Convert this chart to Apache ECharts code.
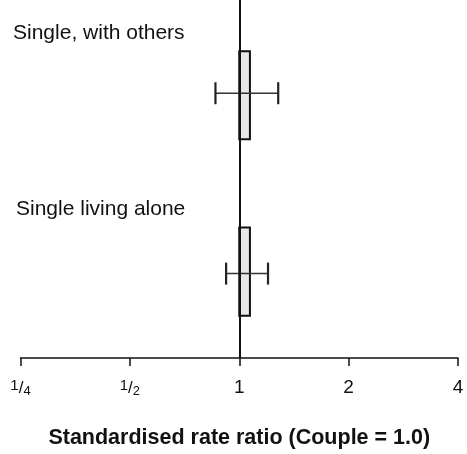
<!DOCTYPE html>
<html>
<head>
<meta charset="utf-8">
<script src="https://cdn.jsdelivr.net/npm/echarts@6/dist/echarts.min.js"></script>
<style>
	html, body { margin: 0; padding: 0; background: #fff; }
	#chart { width: 467px; height: 454px; }
</style>
</head>
<body>
<div id="chart"></div>
<script>
// 数据
var groups = ['Single, with others', 'Single living alone'];
var rateRatio = [1.07, 1.07];
var lowerCI = [0.86, 0.92];
var upperCI = [1.28, 1.20];
var tickValues = [0.25, 0.5, 1, 2, 4];
var tickLabels = ['{n|1}{s|/}{d|4}', '{n|1}{s|/}{d|2}', '1', '2', '4'];

window.onload = function() {
	var chart = echarts.init(document.getElementById('chart'));
	var fontFam = '"Liberation Sans", Arial, sans-serif';

	var rows = [];
	for (var i = 0; i < groups.length; i++) {
		rows.push([i, rateRatio[i], lowerCI[i], upperCI[i]]);
	}

	function renderItem(params, api) {
		var idx = api.value(0);
		var base = api.coord([1, idx]);
		var est = api.coord([api.value(1), idx]);
		var lo = api.coord([api.value(2), idx]);
		var hi = api.coord([api.value(3), idx]);
		var barH = api.size([0, 1])[1] * 0.5;
		var capH = 22;
		var ey = base[1] + (idx === 0 ? -2 : 2);
		return {
			type: 'group',
			children: [
				{
					type: 'rect',
					shape: { x: base[0], y: base[1] - barH / 2, width: est[0] - base[0], height: barH },
					style: { fill: '#e8e8e8', stroke: '#111', lineWidth: 2 }
				},
				{
					type: 'line',
					shape: { x1: lo[0], y1: ey, x2: hi[0], y2: ey },
					style: { stroke: '#333', lineWidth: 1.5 }
				},
				{
					type: 'line',
					shape: { x1: lo[0], y1: ey - capH / 2, x2: lo[0], y2: ey + capH / 2 },
					style: { stroke: '#222', lineWidth: 2.2 }
				},
				{
					type: 'line',
					shape: { x1: hi[0], y1: ey - capH / 2, x2: hi[0], y2: ey + capH / 2 },
					style: { stroke: '#222', lineWidth: 2.2 }
				},
				{
					type: 'text',
					style: {
						x: idx === 0 ? 13 : 16, y: base[1] - 62,
						text: groups[idx],
						fill: '#111',
						font: '21px ' + fontFam,
						verticalAlign: 'middle'
					}
				}
			]
		};
	}

	var option = {
		animation: false,
		grid: { left: 20.5, right: 9, top: 0, bottom: 95 },
		xAxis: {
			type: 'log',
			logBase: 2,
			min: 0.25,
			max: 4,
			interval: 1,
			name: 'Standardised rate ratio (Couple = 1.0)',
			nameLocation: 'middle',
			nameGap: 69,
			nameTextStyle: {
				color: '#111',
				fontSize: 21.5,
				fontWeight: 'bold',
				fontFamily: fontFam
			},
			axisLine: { onZero: false, lineStyle: { color: '#111', width: 1.5 } },
			axisTick: { length: 8, lineStyle: { color: '#111', width: 1.5 } },
			splitLine: { show: false },
			axisLabel: {
				margin: 20,
				color: '#111',
				fontSize: 19,
				fontFamily: fontFam,
				rich: {
					n: { fontSize: 15, fontFamily: fontFam, color: '#111', verticalAlign: 'top', lineHeight: 20 },
					s: { fontSize: 17, fontFamily: fontFam, color: '#111', lineHeight: 20 },
					d: { fontSize: 13, fontFamily: fontFam, color: '#111', verticalAlign: 'bottom', lineHeight: 20 }
				},
				formatter: function(v) {
					for (var i = 0; i < tickValues.length; i++) {
						if (Math.abs(tickValues[i] - v) < 1e-6) return tickLabels[i];
					}
					return '';
				}
			}
		},
		yAxis: {
			type: 'value',
			min: -0.54,
			max: 1.49,
			inverse: true,
			show: false
		},
		series: [{
			type: 'custom',
			renderItem: renderItem,
			encode: { x: [1, 2, 3], y: 0 },
			data: rows,
			markLine: {
				silent: true,
				symbol: 'none',
				label: { show: false },
				lineStyle: { color: '#111', width: 2, type: 'solid' },
				data: [{ xAxis: 1 }]
			}
		}]
	};
	chart.setOption(option);
};
</script>
</body>
</html>
